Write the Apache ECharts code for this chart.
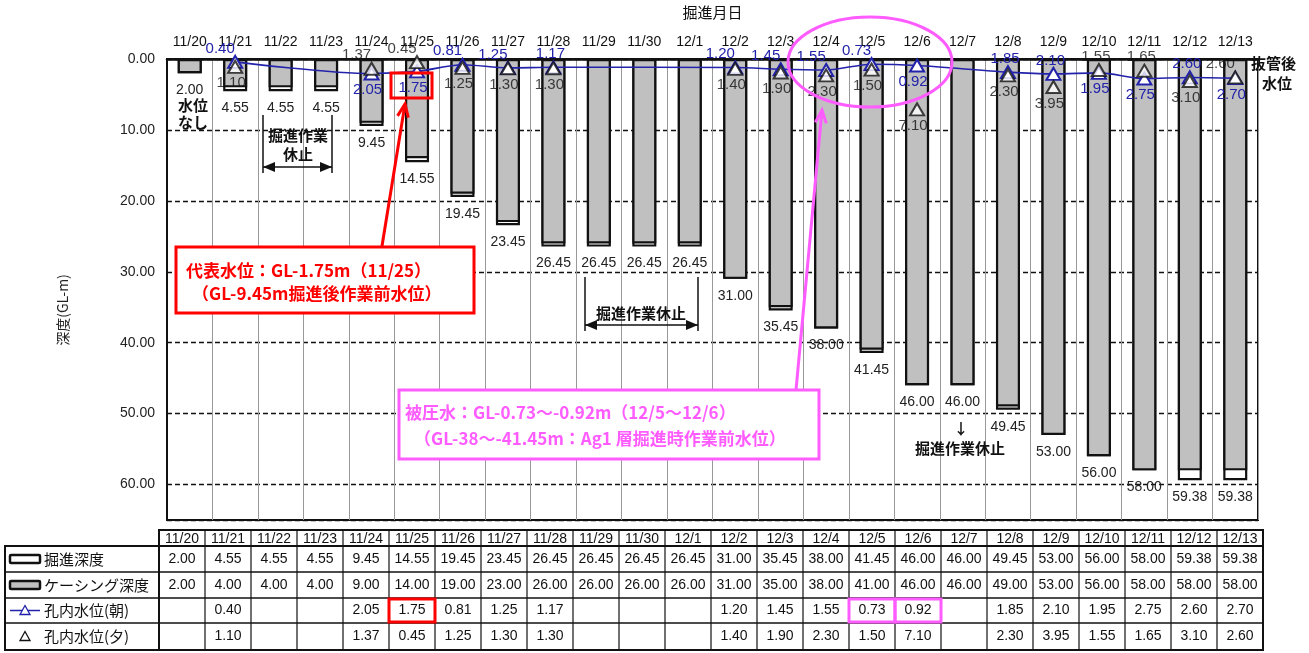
<!DOCTYPE html>
<html>
<head>
<meta charset="utf-8">
<script src="https://cdn.jsdelivr.net/npm/echarts@6/dist/echarts.min.js"></script>
<style>
html, body { margin: 0; padding: 0; background: #fff; }
#chart { width: 1309px; height: 653px; }
</style>
</head>
<body>
<div id="chart"></div>
<script>
// 掘進月日
const dates = ['11/20', '11/21', '11/22', '11/23', '11/24', '11/25', '11/26', '11/27', '11/28', '11/29', '11/30', '12/1',
  '12/2', '12/3', '12/4', '12/5', '12/6', '12/7', '12/8', '12/9', '12/10', '12/11', '12/12', '12/13'];
// 掘進深度
const digDepth = [2.00, 4.55, 4.55, 4.55, 9.45, 14.55, 19.45, 23.45, 26.45, 26.45, 26.45, 26.45,
  31.00, 35.45, 38.00, 41.45, 46.00, 46.00, 49.45, 53.00, 56.00, 58.00, 59.38, 59.38];
// ケーシング深度
const casingDepth = [2.00, 4.00, 4.00, 4.00, 9.00, 14.00, 19.00, 23.00, 26.00, 26.00, 26.00, 26.00,
  31.00, 35.00, 38.00, 41.00, 46.00, 46.00, 49.00, 53.00, 56.00, 58.00, 58.00, 58.00];
// 孔内水位(朝)
const waterAm = [null, 0.40, null, null, 2.05, 1.75, 0.81, 1.25, 1.17, null, null, null,
  1.20, 1.45, 1.55, 0.73, 0.92, null, 1.85, 2.10, 1.95, 2.75, 2.60, 2.70];
// 孔内水位(夕)
const waterPm = [null, 1.10, null, null, 1.37, 0.45, 1.25, 1.30, 1.30, null, null, null,
  1.40, 1.90, 2.30, 1.50, 7.10, null, 2.30, 3.95, 1.55, 1.65, 3.10, 2.60];
// 深度目盛
const yTicks = [0, 10, 20, 30, 40, 50, 60];

// ラベル配置 (tl: 左上, t: 上, b: 下)
const amPlace = ['', 'tl', '', '', 'b', 'b', 'tl', 'tl', 't', '', '', '',
  'tl', 'tl', 'tl', 'tl', 'b', '', 't', 't', 'b', 'b', 't', 'b'];
const pmPlace = ['', 'b', '', '', 'tl', 'tl', 'b', 'b', 'b', '', '', '',
  'b', 'b', 'b', 'b', 'b', '', 'b', 'b', 't', 't', 'b', 'tl'];

const NUM_FONT = "'Liberation Sans', 'Noto Sans CJK JP', sans-serif";
const JP_FONT = "'Noto Sans CJK JP', sans-serif";
const BLUE = '#2222aa';
const RED = '#ff0000';
const PINK = '#ff5cff';

function placeLabel (p) {
  if (p === 'tl') return { position: 'top', distance: 0, offset: [-15, 1] };
  if (p === 't') return { position: 'top', distance: 0, offset: [-3, 1] };
  return { position: 'bottom', distance: 2, offset: [-4, 0] };
}

function pointData (values, places) {
  return values.map((v, i) => v === null ? null : { value: v, label: placeLabel(places[i]) });
}

// 矢印 (開いたV字)
function arrow (x1, y1, x2, y2, color, width, size) {
  const ang = Math.atan2(y2 - y1, x2 - x1);
  const a1 = ang + Math.PI - 0.4, a2 = ang + Math.PI + 0.4;
  return [
    { type: 'line', z: 120, shape: { x1: x1, y1: y1, x2: x2, y2: y2 }, style: { stroke: color, lineWidth: width } },
    { type: 'polyline', z: 120, shape: { points: [[x2 + size * Math.cos(a1), y2 + size * Math.sin(a1)], [x2, y2], [x2 + size * Math.cos(a2), y2 + size * Math.sin(a2)]] },
      style: { stroke: color, lineWidth: width, fill: 'none' } }
  ];
}

function txt (x, y, text, font, color, align) {
  return { type: 'text', z: 130, x: x, y: y,
    style: { text: text, font: font, fill: color || '#111', textAlign: align || 'center', textVerticalAlign: 'middle' } };
}

// 両矢印 (塗りつぶし)
function dblArrow (xa, xb, y, ytop) {
  return [
    { type: 'line', z: 110, shape: { x1: xa, y1: ytop, x2: xa, y2: y + 6 }, style: { stroke: '#111', lineWidth: 1.5 } },
    { type: 'line', z: 110, shape: { x1: xb, y1: ytop, x2: xb, y2: y + 6 }, style: { stroke: '#111', lineWidth: 1.5 } },
    { type: 'line', z: 110, shape: { x1: xa, y1: y, x2: xb, y2: y }, style: { stroke: '#111', lineWidth: 1.5 } },
    { type: 'polygon', z: 110, shape: { points: [[xa, y], [xa + 12, y - 5], [xa + 12, y + 5]] }, style: { fill: '#111' } },
    { type: 'polygon', z: 110, shape: { points: [[xb, y], [xb - 12, y - 5], [xb - 12, y + 5]] }, style: { fill: '#111' } }
  ];
}

// 下部の表
function buildTable () {
  const els = [];
  const lx = 5, dx = 159, cw = 46, ys = [530, 546, 572, 598, 623, 650];
  const rx = dx + cw * dates.length;
  const fmt = v => (v === null ? '' : v.toFixed(2));
  const rows = [digDepth, casingDepth, waterAm, waterPm];
  const names = ['掘進深度', 'ケーシング深度', '孔内水位(朝)', '孔内水位(夕)'];
  // 枠
  els.push({ type: 'rect', z: 50, shape: { x: dx, y: ys[0], width: rx - dx, height: ys[5] - ys[0] }, style: { fill: 'none', stroke: '#111', lineWidth: 2 } });
  els.push({ type: 'rect', z: 50, shape: { x: lx, y: ys[1], width: rx - lx, height: ys[5] - ys[1] }, style: { fill: 'none', stroke: '#111', lineWidth: 2 } });
  for (let r = 2; r < 5; r++) {
    els.push({ type: 'line', z: 50, shape: { x1: lx, y1: ys[r], x2: rx, y2: ys[r] }, style: { stroke: '#111', lineWidth: 1.5 } });
  }
  els.push({ type: 'line', z: 50, shape: { x1: dx, y1: ys[1], x2: rx, y2: ys[1] }, style: { stroke: '#111', lineWidth: 1.5 } });
  for (let c = 1; c < dates.length; c++) {
    const x = dx + cw * c;
    els.push({ type: 'line', z: 50, shape: { x1: x, y1: ys[0], x2: x, y2: ys[5] }, style: { stroke: '#111', lineWidth: 1.2 } });
  }
  dates.forEach((d, c) => {
    const cx = dx + cw * c + cw / 2;
    els.push(txt(cx, (ys[0] + ys[1]) / 2 + 1, d, '14px ' + NUM_FONT, '#111'));
    rows.forEach((arr, r) => {
      els.push(txt(cx, (ys[r + 1] + ys[r + 2]) / 2, fmt(arr[c]), '14px ' + NUM_FONT, '#111'));
    });
  });
  names.forEach((n, r) => {
    els.push(txt(44, (ys[r + 1] + ys[r + 2]) / 2, n, '15px ' + JP_FONT, '#111', 'left'));
  });
  // 凡例アイコン
  const c1 = (ys[1] + ys[2]) / 2, c2 = (ys[2] + ys[3]) / 2, c3 = (ys[3] + ys[4]) / 2, c4 = (ys[4] + ys[5]) / 2;
  els.push({ type: 'rect', z: 60, shape: { x: 10, y: c1 - 4, width: 30, height: 8, r: 1 }, style: { fill: '#fff', stroke: '#111', lineWidth: 2.5 } });
  els.push({ type: 'rect', z: 60, shape: { x: 10, y: c2 - 4, width: 30, height: 8, r: 1 }, style: { fill: '#c0c0c0', stroke: '#111', lineWidth: 2.5 } });
  els.push({ type: 'line', z: 60, shape: { x1: 10, y1: c3, x2: 40, y2: c3 }, style: { stroke: BLUE, lineWidth: 1.5 } });
  els.push({ type: 'polygon', z: 61, shape: { points: [[25, c3 - 5], [30, c3 + 4], [20, c3 + 4]] }, style: { fill: '#fff', stroke: BLUE, lineWidth: 1.3 } });
  els.push({ type: 'polygon', z: 61, shape: { points: [[25, c4 - 5], [30, c4 + 4], [20, c4 + 4]] }, style: { fill: '#fff', stroke: '#111', lineWidth: 1.3 } });
  // 強調枠
  els.push({ type: 'rect', z: 70, shape: { x: dx + cw * 5, y: ys[3] + 1, width: cw, height: ys[4] - ys[3] - 2 }, style: { fill: 'none', stroke: RED, lineWidth: 3 } });
  els.push({ type: 'rect', z: 70, shape: { x: dx + cw * 15, y: ys[3] + 1, width: cw, height: ys[4] - ys[3] - 2 }, style: { fill: 'none', stroke: PINK, lineWidth: 3 } });
  els.push({ type: 'rect', z: 70, shape: { x: dx + cw * 16, y: ys[3] + 1, width: cw, height: ys[4] - ys[3] - 2 }, style: { fill: 'none', stroke: PINK, lineWidth: 3 } });
  return els;
}

function buildNotes () {
  let els = [];
  const bold17 = 'bold 17px ' + JP_FONT;
  // 深度軸名
  els.push({ type: 'text', z: 130, x: 63, y: 310, rotation: Math.PI / 2,
    style: { text: '深度(GL-m)', font: '14px ' + JP_FONT, fill: '#222', textAlign: 'center', textVerticalAlign: 'middle' } });
  // 代表水位
  els.push({ type: 'rect', z: 100, shape: { x: 391, y: 73, width: 41, height: 25 }, style: { fill: 'none', stroke: RED, lineWidth: 3 } });
  els = els.concat(arrow(382, 246, 405, 104, RED, 3, 14));
  els.push({ type: 'rect', z: 115, shape: { x: 176, y: 247, width: 298, height: 66 }, style: { fill: '#fff', stroke: RED, lineWidth: 3 } });
  els.push(txt(186, 271, '代表水位：GL-1.75m（11/25）', bold17, RED, 'left'));
  els.push(txt(192, 294, '（GL-9.45m掘進後作業前水位）', bold17, RED, 'left'));
  // 被圧水
  els.push({ type: 'ellipse', z: 100, shape: { cx: 870, cy: 62, rx: 82, ry: 45 }, style: { fill: 'none', stroke: PINK, lineWidth: 3 } });
  els = els.concat(arrow(796, 390, 822, 110, PINK, 3, 14));
  els.push({ type: 'rect', z: 115, shape: { x: 399, y: 390, width: 420, height: 69 }, style: { fill: '#fff', stroke: PINK, lineWidth: 3 } });
  els.push(txt(405, 413, '被圧水：GL-0.73～-0.92m（12/5～12/6）', bold17, PINK, 'left'));
  els.push(txt(414, 439, '（GL-38～-41.45m：Ag1 層掘進時作業前水位）', bold17, PINK, 'left'));
  // 注記
  els.push(txt(178, 105, '水位', 'bold 15px ' + JP_FONT, '#111', 'left'));
  els.push(txt(178, 122, 'なし', 'bold 15px ' + JP_FONT, '#111', 'left'));
  els.push(txt(298, 135, '掘進作業', 'bold 15px ' + JP_FONT, '#111'));
  els.push(txt(298, 154, '休止', 'bold 15px ' + JP_FONT, '#111'));
  els = els.concat(dblArrow(263, 332, 167, 115));
  els.push(txt(641, 313, '掘進作業休止', 'bold 15px ' + JP_FONT, '#111'));
  els = els.concat(dblArrow(585, 698, 325, 277));
  els.push(txt(961, 428, '↓', 'bold 15px ' + JP_FONT, '#111'));
  els.push(txt(960, 448, '掘進作業休止', 'bold 15px ' + JP_FONT, '#111'));
  els.push(txt(1251, 63, '抜管後', 'bold 15px ' + JP_FONT, '#111', 'left'));
  els.push(txt(1262, 83, '水位', 'bold 15px ' + JP_FONT, '#111', 'left'));
  return els;
}

const chart = echarts.init(document.getElementById('chart'));
chart.setOption({
  backgroundColor: '#fff',
  animation: false,
  textStyle: { fontFamily: NUM_FONT },
  grid: { left: 167, right: 51, top: 54, bottom: 133, show: true, borderColor: '#111', borderWidth: 2, backgroundColor: 'transparent' },
  xAxis: {
    type: 'category',
    data: dates,
    position: 'top',
    boundaryGap: true,
    name: '掘進月日',
    nameLocation: 'middle',
    nameGap: 39,
    nameTextStyle: { fontSize: 15, color: '#111', fontFamily: JP_FONT },
    axisLine: { lineStyle: { color: '#111', width: 2.5 } },
    axisTick: { show: false },
    axisLabel: { interval: 0, fontSize: 14, color: '#111', margin: 10 },
    splitLine: { show: true, interval: 0, lineStyle: { color: '#999', width: 1 } }
  },
  yAxis: {
    type: 'value',
    inverse: true,
    min: yTicks[0],
    max: 65,
    interval: 10,
    axisLine: { show: true, lineStyle: { color: '#111', width: 2 } },
    axisTick: { show: false },
    axisLabel: { fontSize: 14, color: '#222', margin: 12, showMaxLabel: false,
      formatter: v => (yTicks.indexOf(v) >= 0 ? v.toFixed(2) : '') },
    splitLine: { show: true, lineStyle: { color: '#111', width: 1.3, type: [5, 3] } }
  },
  series: [
    {
      name: '掘進深度',
      type: 'bar',
      data: digDepth,
      barWidth: 24,
      z: 2,
      itemStyle: { color: '#fff', borderColor: '#111', borderWidth: 2.2 },
      label: { show: true, position: 'bottom', distance: 10, fontSize: 14, color: '#222', formatter: p => p.value.toFixed(2) }
    },
    {
      name: 'ケーシング深度',
      type: 'bar',
      data: casingDepth,
      barWidth: 24,
      barGap: '-100%',
      z: 3,
      itemStyle: { color: '#c0c0c0', borderColor: '#111', borderWidth: 2.2 }
    },
    {
      name: '孔内水位(朝)',
      type: 'line',
      data: pointData(waterAm, amPlace),
      connectNulls: true,
      smooth: 0.3,
      z: 5,
      symbol: 'emptyTriangle',
      symbolSize: [14, 12],
      itemStyle: { color: BLUE, borderWidth: 1.6 },
      lineStyle: { color: BLUE, width: 1.6 },
      label: { show: true, fontSize: 15, color: BLUE, formatter: p => p.value.toFixed(2) }
    },
    {
      name: '孔内水位(夕)',
      type: 'scatter',
      data: pointData(waterPm, pmPlace),
      z: 6,
      symbol: 'emptyTriangle',
      symbolSize: [14, 12],
      itemStyle: { color: '#111', borderWidth: 1.6 },
      label: { show: true, fontSize: 15, color: '#111', formatter: p => p.value.toFixed(2) }
    }
  ],
  graphic: buildTable().concat(buildNotes())
});
</script>
</body>
</html>
